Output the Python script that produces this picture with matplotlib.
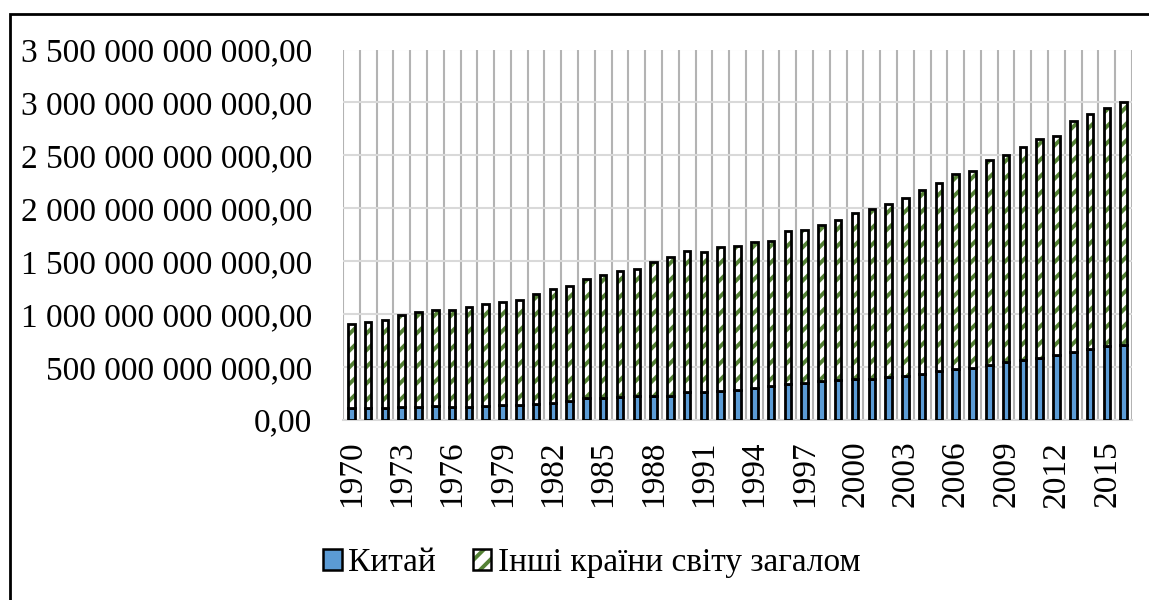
import numpy as np
import matplotlib
matplotlib.use("Agg")
import matplotlib.pyplot as plt
from matplotlib.patches import Patch, Rectangle
from matplotlib.legend_handler import HandlerTuple
from matplotlib.ticker import FuncFormatter, MultipleLocator

years = list(range(1970, 2017))

# values in trillions
china = [0.114, 0.114, 0.114, 0.127, 0.127, 0.136, 0.127, 0.127, 0.136, 0.143,
         0.143, 0.152, 0.162, 0.177, 0.205, 0.205, 0.219, 0.231, 0.231, 0.231,
         0.260, 0.260, 0.276, 0.288, 0.307, 0.317, 0.342, 0.352, 0.364, 0.374,
         0.390, 0.390, 0.402, 0.414, 0.437, 0.459, 0.481, 0.494, 0.523, 0.548,
         0.564, 0.589, 0.614, 0.643, 0.671, 0.697, 0.709]
total = [0.903, 0.922, 0.944, 0.989, 1.017, 1.039, 1.039, 1.070, 1.100, 1.113,
         1.135, 1.188, 1.236, 1.267, 1.331, 1.372, 1.403, 1.429, 1.495, 1.536,
         1.593, 1.584, 1.635, 1.647, 1.679, 1.692, 1.790, 1.799, 1.844, 1.894,
         1.952, 1.990, 2.037, 2.094, 2.173, 2.243, 2.325, 2.354, 2.455, 2.506,
         2.576, 2.658, 2.684, 2.823, 2.895, 2.947, 3.004]

labels = ["Китай", "Інші країни світу загалом"]

china_v = np.array(china) * 1e12
other_v = (np.array(total) - np.array(china)) * 1e12
x = np.arange(len(years))

plt.rcParams['font.family'] = ['Liberation Serif', 'DejaVu Serif']
plt.rcParams['hatch.linewidth'] = 2.8

blue = '#5b9bd5'
green = '#548235'
W, H = 1149, 600
fig = plt.figure(figsize=(W / 100, H / 100), dpi=100)
ax = fig.add_axes([343 / W, 1 - 420 / H, (1132 - 343) / W, (420 - 49.5) / H])

bw = 0.39
ax.bar(x, china_v, width=bw, color=blue, edgecolor='black', linewidth=2.0, zorder=3)
# hatch layer then black outline on top
ax.bar(x, other_v, width=bw, bottom=china_v, color='white', edgecolor=green,
       hatch='//', linewidth=0, zorder=3)
ax.bar(x, other_v, width=bw, bottom=china_v, fill=False, edgecolor='black',
       linewidth=2.0, zorder=4)

ax.set_xlim(-0.5, len(years) - 0.5)
ax.set_ylim(0, 3.5e12)
ax.yaxis.set_major_locator(MultipleLocator(0.5e12))
ax.yaxis.set_major_formatter(FuncFormatter(
    lambda v, p: "{:,.2f}".format(v).replace(',', ' ').replace('.', ',')))
ax.set_xticks(x[::3])
ax.set_xticklabels([str(y) for y in years[::3]], rotation=90, va='top', ha='center')
ax.set_xticks(np.arange(len(years) + 1) - 0.5, minor=True)

ax.tick_params(axis='both', which='both', length=0, labelsize=24)
ax.tick_params(axis='x', pad=15)
ax.tick_params(axis='y', pad=22)
ax.grid(axis='y', which='major', color='#d9d9d9', linewidth=1.5, zorder=0)
ax.grid(axis='x', which='minor', color='#b3b3b3', linewidth=1.5, zorder=0)
ax.grid(axis='x', which='major', visible=False)
for s in ['top', 'right', 'left']:
    ax.spines[s].set_visible(False)
ax.spines['bottom'].set_color('#d9d9d9')
ax.spines['bottom'].set_linewidth(1.5)

h1 = Patch(facecolor=blue, edgecolor='black', linewidth=1.8)
h2 = (Patch(facecolor='white', edgecolor=green, hatch='//', linewidth=0),
      Patch(fill=False, edgecolor='black', linewidth=1.8))
fig.legend([h1, h2], labels, loc='center', bbox_to_anchor=(592 / W, 1 - 563 / H),
           ncol=2, frameon=False, fontsize=24, handlelength=0.55, handleheight=0.6,
           handletextpad=0.2, columnspacing=1.1,
           handler_map={tuple: HandlerTuple(ndivide=1, pad=0)})

# outer frame (cut off at right and bottom)
fig.patches.append(Rectangle((10 / W, -0.1), 1.2, 1 - 14 / H + 0.1,
                             transform=fig.transFigure, fill=False,
                             edgecolor='black', linewidth=2))

fig.savefig('out.png', dpi=100)
